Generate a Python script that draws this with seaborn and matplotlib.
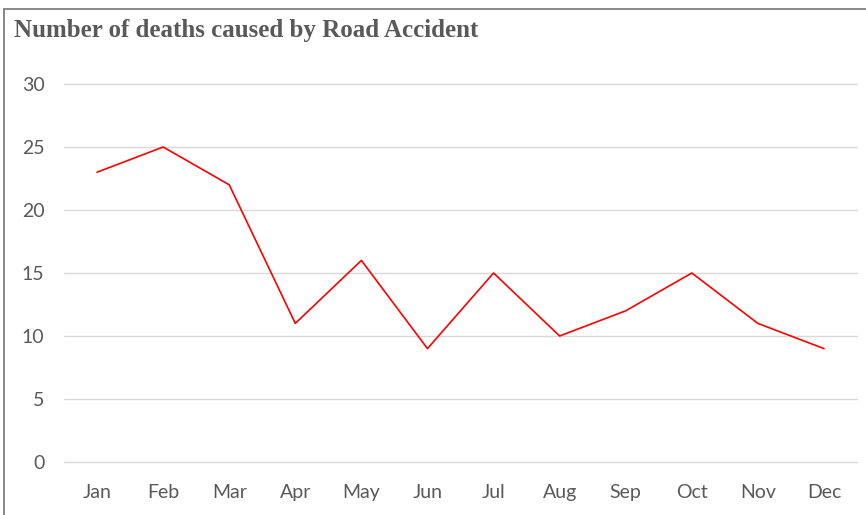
import matplotlib
matplotlib.use("Agg")
import matplotlib.pyplot as plt
import seaborn as sns
import pandas as pd
from matplotlib.lines import Line2D

months = ["Jan", "Feb", "Mar", "Apr", "May", "Jun", "Jul", "Aug", "Sep", "Oct", "Nov", "Dec"]
deaths = [23, 25, 22, 11, 16, 9, 15, 10, 12, 15, 11, 9]
yticks = [0, 5, 10, 15, 20, 25, 30]
title = "Number of deaths caused by Road Accident"

sns.set_theme(style="white")
plt.rcParams['font.family'] = ['Lato', 'DejaVu Sans']

df = pd.DataFrame({"month": months, "deaths": deaths})

fig = plt.figure(figsize=(8.66, 5.15), dpi=100)
ax = fig.add_axes([64/866, 1-462/515, (857-64)/866, (462-84)/515])

sns.lineplot(data=df, x="month", y="deaths", ax=ax, color="#FF0000", linewidth=1.2, sort=False)

ax.set_xlim(-0.5, len(months) - 0.5)
ax.set_ylim(0, 30)
ax.set_yticks(yticks)
ax.set_yticklabels([str(v) for v in yticks])
ax.grid(axis="y", color="#D9D9D9", linewidth=1.0)
for gl in ax.get_ygridlines():
    gl.set_clip_on(False)
ax.set_axisbelow(True)
for s in ax.spines.values():
    s.set_visible(False)
ax.tick_params(axis="both", length=0, labelsize=14, colors="#595959")
ax.tick_params(axis="y", pad=14)
ax.tick_params(axis="x", pad=15.5)
ax.set_xlabel("")
ax.set_ylabel("")

fig.text(14/866, 1-31/515, title, family=["Liberation Serif"], fontweight="bold",
         fontsize=18, color="#595959", ha="left", va="center")

# outer frame (top and left edges)
fig.add_artist(Line2D([3.5/866, 1.0], [1-8.5/515, 1-8.5/515], transform=fig.transFigure,
                      color="#7F7F7F", linewidth=1.3))
fig.add_artist(Line2D([3.5/866, 3.5/866], [0, 1-8.5/515], transform=fig.transFigure,
                      color="#7F7F7F", linewidth=1.3))

fig.savefig("out.png", dpi=100)
